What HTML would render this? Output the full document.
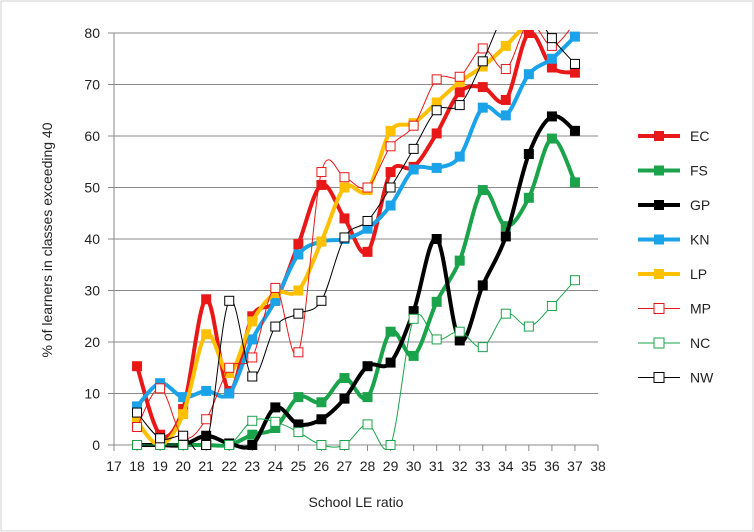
<!DOCTYPE html>
<html><head><meta charset="utf-8"><style>
body{margin:0;background:#fff}
svg{display:block;font-family:"Liberation Sans",sans-serif}
</style></head><body>
<svg id="chart" width="754" height="532">
<rect x="1" y="1" width="752" height="530" fill="#fff" stroke="#d0d0d0"/>
<defs><clipPath id="clip"><rect x="100" y="30" width="510" height="420"/></clipPath></defs>
<g id="grid"></g>
<g id="series" clip-path="url(#clip)"></g>
<g id="legend"></g>
<text x="356" y="507" text-anchor="middle" font-size="14" fill="#222">School LE ratio</text>
<text transform="translate(52,240) rotate(-90)" text-anchor="middle" font-size="14" fill="#222">% of learners in classes exceeding 40</text>
</svg>
<script>
const xTicks=[17,18,19,20,21,22,23,24,25,26,27,28,29,30,31,32,33,34,35,36,37,38];
const yTicks=[0,10,20,30,40,50,60,70,80];
const xs=[18,19,20,21,22,23,24,25,26,27,28,29,30,31,32,33,34,35,36,37];
const seriesNames=["EC","FS","GP","KN","LP","MP","NC","NW"];
const EC=[15.3,2,7,28.3,10.5,25,28,39,50.5,44,37.5,53,54,60.5,68.5,69.5,67,80,73.3,72.3];
const FS=[0,0,0,0,0,2,3.3,9.3,8.3,13,9.3,22,17.3,27.8,35.8,49.5,42.5,48,59.5,51];
const GP=[0,0,0,1.8,0.3,0,7.3,4,5,9,15.3,16,26,40,20.3,31,40.5,56.5,63.8,61];
const KN=[7.5,12,9.3,10.5,10,20.5,28,37,39.5,40,42,46.5,53.5,53.8,56,65.5,64,72,75,79.3];
const LP=[4.5,0,6,21.5,14,24,29.5,30,39.5,50,49.5,61,62.5,66.5,70.5,73.5,77.5,82,84,86];
const MP=[3.5,11,1.5,5,15,17,30.5,18,53,52,50,58,62,71,71.5,77,73,82,77.5,82];
const NC=[0,0,0,0,0,4.7,4.5,2.5,0,0,4,0,24.5,20.5,22,19,25.5,23,27,32];
const NW=[6.3,1.3,1.8,0,28,13.3,23,25.5,28,40.3,43.5,50,57.5,65,66,74.5,84,85,79,74];
const styles=[
 {d:EC,c:"#e81818",w:4,f:true},{d:FS,c:"#1aa34a",w:4,f:true},{d:GP,c:"#000",w:4,f:true},
 {d:KN,c:"#1aa3e8",w:4,f:true},{d:LP,c:"#ffc000",w:4,f:true},{d:MP,c:"#e81818",w:1,f:false},
 {d:NC,c:"#1aa34a",w:1,f:false},{d:NW,c:"#000",w:1,f:false}];
const X=v=>114+(v-17)*(598-114)/21;
const Y=v=>445-v*(445-33)/80;
const NS="http://www.w3.org/2000/svg";
function mk(t,a,p){const e=document.createElementNS(NS,t);for(const k in a)e.setAttribute(k,a[k]);p.appendChild(e);return e;}
const grid=document.getElementById("grid");
yTicks.forEach(v=>{
 const l=mk("line",{x1:108,x2:598,y1:Y(v),y2:Y(v),stroke:"#888","stroke-width":1},grid);
 
 
 const t=mk("text",{x:100,y:Y(v)+5,"text-anchor":"end","font-size":14,fill:"#222"},grid);t.textContent=v;
 
 
});
const ax=mk("line",{x1:114,x2:114,y1:33,y2:445,stroke:"#888"},grid);


xTicks.forEach(v=>{
 const l=mk("line",{x1:X(v),x2:X(v),y1:445,y2:451,stroke:"#888"},grid);
 
 
 const t=mk("text",{x:X(v),y:471,"text-anchor":"middle","font-size":14,fill:"#222"},grid);t.textContent=v;
 
 
});
const sg=document.getElementById("series");
function smooth(pts){let d="M"+pts[0][0]+","+pts[0][1];
 for(let i=0;i<pts.length-1;i++){const p0=pts[i-1]||pts[i],p1=pts[i],p2=pts[i+1],p3=pts[i+2]||p2;
  const c1=[p1[0]+(p2[0]-p0[0])/6,p1[1]+(p2[1]-p0[1])/6],c2=[p2[0]-(p3[0]-p1[0])/6,p2[1]-(p3[1]-p1[1])/6];
  d+=" C"+c1+" "+c2+" "+p2;}return d;}
styles.forEach((s,i)=>{
 const g=mk("g",{},sg);
 
 
 const pts=s.d.map((v,j)=>[X(xs[j]),Y(v)]);
 mk("path",{d:smooth(pts),fill:"none",stroke:s.c,"stroke-width":s.w},g);
 pts.forEach(p=>{const sz=s.f?10:9;
  const r=mk("rect",{x:p[0]-sz/2,y:p[1]-sz/2,width:sz,height:sz,fill:s.f?s.c:"#fff",stroke:s.c,"stroke-width":s.f?0:1},g);
  
  
 });
});
const lg=document.getElementById("legend");
styles.forEach((s,i)=>{
 const y=136+i*34.5;
 const g=mk("g",{},lg);
 
 
 mk("line",{x1:638,x2:680,y1:y,y2:y,stroke:s.c,"stroke-width":s.w},g);
 mk("rect",{x:654,y:y-5,width:10,height:10,fill:s.f?s.c:"#fff",stroke:s.c,"stroke-width":s.f?0:1},g);
 const t=mk("text",{x:690,y:y+5,"font-size":14,fill:"#222"},g);t.textContent=seriesNames[i];
});
</script>
</body></html>
